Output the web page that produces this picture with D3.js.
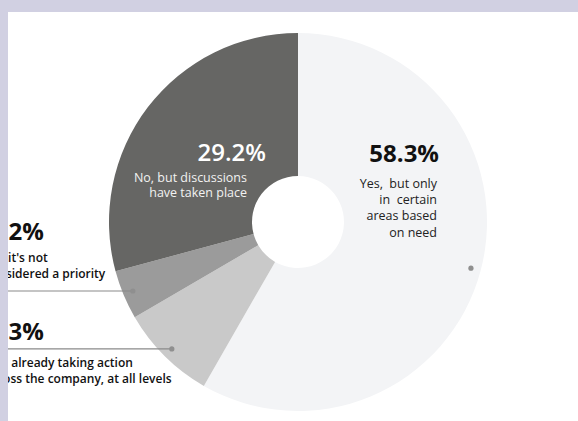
<!DOCTYPE html>
<html>
<head>
<meta charset="utf-8">
<script src="https://cdn.jsdelivr.net/npm/d3@7"></script>
<style>
  html, body { margin: 0; padding: 0; background: #fff; }
  svg { display: block; }
</style>
</head>
<body>
<svg id="chart" width="578" height="421"></svg>
<script>
// Survey answers, clockwise from 12 o'clock
const categories = [
  "Yes, but only in certain areas based on need",
  "Yes, already taking action across the company, at all levels",
  "No, it's not considered a priority",
  "No, but discussions have taken place"
];
const values = [58.3, 8.3, 4.2, 29.2];
const valueLabels = ["58.3%", "8.3%", "4.2%", "29.2%"];
const labelLines = [
  ["Yes,  but only", "in  certain", "areas based", "on need"],
  ["Yes, already taking action", "across the company, at all levels"],
  ["No, it's not", "considered a priority"],
  ["No, but discussions", "have taken place"]
];
const colors = ["#f3f4f6", "#c9c9c9", "#9b9b9b", "#666664"];

const svg = d3.select("#chart");
const W = 578, H = 421;
const cx = 298, cy = 222;
const outerR = 189, innerR = 46, dotR = 179;

svg.append("rect").attr("width", W).attr("height", H).attr("fill", "#ffffff");

const pie = d3.pie().sort(null).value(d => d);
const arcs = pie(values);
const arc = d3.arc().innerRadius(innerR).outerRadius(outerR);
const dotArc = d3.arc().innerRadius(dotR).outerRadius(dotR);

const g = svg.append("g").attr("transform", `translate(${cx},${cy})`);
g.selectAll("path.slice")
  .data(arcs)
  .join("path")
  .attr("class", "slice")
  .attr("d", arc)
  .attr("fill", (d, i) => colors[i]);

// Leader lines from the left-hand labels into their slices
[2, 1].forEach(i => {
  const [x, y] = dotArc.centroid(arcs[i]);
  g.append("line")
    .attr("x1", -cx).attr("x2", x)
    .attr("y1", y).attr("y2", y)
    .attr("stroke", "#8a8a8a").attr("stroke-width", 1.2);
});
[0, 1, 2].forEach(i => {
  const [x, y] = dotArc.centroid(arcs[i]);
  g.append("circle").attr("cx", x).attr("cy", y).attr("r", 2.6).attr("fill", "#8f8f8f");
});

const font = "'Open Sans', 'Liberation Sans', sans-serif";

function txt(x, y, anchor, size, weight, fill, t) {
  return svg.append("text")
    .attr("x", x).attr("y", y)
    .attr("text-anchor", anchor)
    .attr("font-family", font).attr("font-weight", weight).attr("font-size", size)
    .attr("fill", fill)
    .attr("xml:space", "preserve").style("white-space", "pre")
    .text(t);
}

// 58.3% label inside the large slice
txt(439, 162, "end", 24, 700, "#111", valueLabels[0]);
labelLines[0].forEach((t, k) => txt(437, 188 + k * 16.2, "end", 12.5, 400, "#222", t));

// 29.2% label inside the dark slice
txt(266, 160.5, "end", 24, 600, "#ffffff", valueLabels[3]);
labelLines[3].forEach((t, k) => txt(247, 181.5 + k * 15.8, "end", 12.5, 400, "#f2f2f2", t));

// Left-hand labels, running in under the page frame
const leftX = -12, leftSubX = -15;
txt(leftX, 240, "start", 24, 700, "#111", valueLabels[2]);
labelLines[2].forEach((t, k) => txt(leftSubX, 262 + k * 15.5, "start", 12, 600, "#111", t));
txt(leftX, 340, "start", 24, 700, "#111", valueLabels[1]);
labelLines[1].forEach((t, k) => txt(leftSubX, 367 + k * 15.5, "start", 12, 600, "#111", t));

// Page frame
svg.append("rect").attr("x", 0).attr("y", 0).attr("width", W).attr("height", 12).attr("fill", "#d1d0e2");
svg.append("rect").attr("x", 0).attr("y", 0).attr("width", 8).attr("height", H).attr("fill", "#d1d0e2");
</script>
</body>
</html>
